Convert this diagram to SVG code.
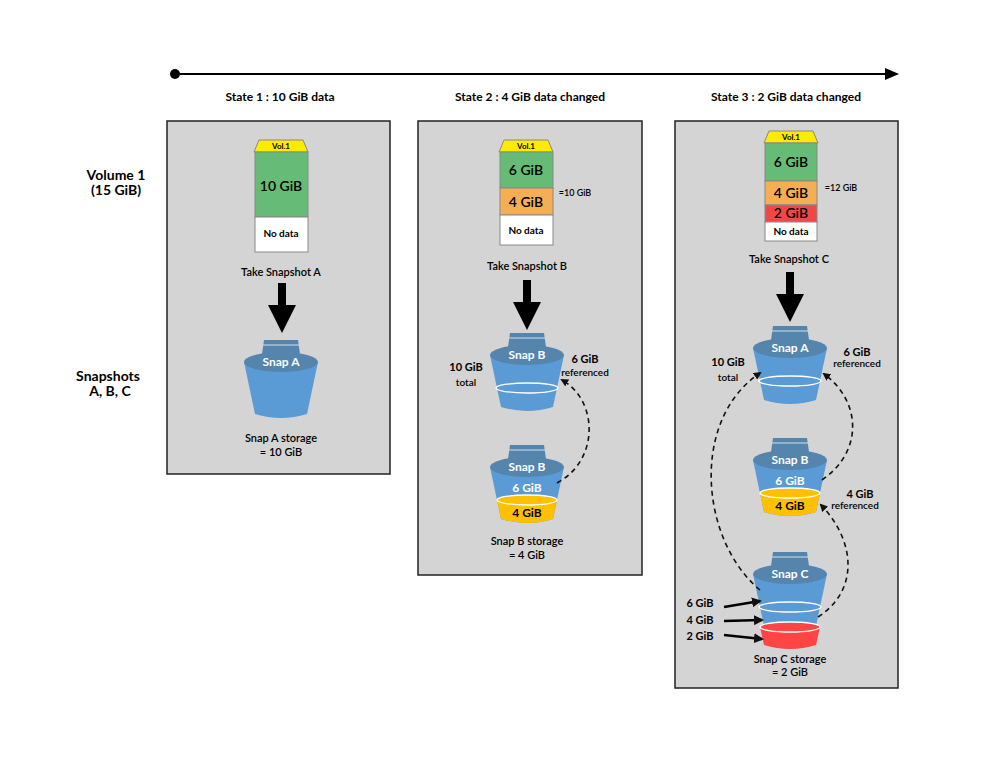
<svg xmlns="http://www.w3.org/2000/svg" width="1000" height="757" viewBox="0 0 1000 757">
<style>
text{font-family:Lato,"Open Sans","Liberation Sans",sans-serif;text-anchor:middle;fill:#000}
.b{font-weight:700}
.s{font-size:11px}
.m{font-size:12px;font-weight:700}
.vt{font-size:14px;font-weight:700}
.w{fill:#fff;font-weight:700;font-size:12px}
.panel{fill:#d4d4d4;stroke:#222;stroke-width:1.5}
.dash{fill:none;stroke:#111;stroke-width:1.6;stroke-dasharray:5 4}
</style>
<defs>
<marker id="ah" markerWidth="8" markerHeight="8" refX="6" refY="4" orient="auto" markerUnits="userSpaceOnUse"><path d="M0,0 L8,4 L0,8 Z" fill="#111"/></marker>
<marker id="ah2" markerWidth="10" markerHeight="10" refX="8" refY="5" orient="auto" markerUnits="userSpaceOnUse"><path d="M0,0 L10,5 L0,10 Z" fill="#111"/></marker>
<g id="bucket">
<path d="M-17,-22 L17,-22 L19,-8 L-19,-8 Z" fill="#5585ad"/>
<line x1="-18" y1="-17" x2="18" y2="-17" stroke="#cfe0ee" stroke-width="1"/>
<path d="M-37,0 L-26,52 Q0,60 26,52 L37,0 Z" fill="#5b9bd5"/>
<ellipse cx="0" cy="0" rx="37" ry="10" fill="#5585ad"/>
</g>
<ellipse id="ring" cx="0" cy="27" rx="31" ry="5" fill="none" stroke="#fff" stroke-width="1.3"/>
<g id="cap"><path d="M4,0 L48,0 L53,12 L-1,12 Z" fill="#ffeb00" stroke="#888" stroke-width="1"/></g>
<g id="bigarrow"><rect x="-4" y="0" width="8" height="24" fill="#000"/><path d="M-14,22 L14,22 L0,50 Z" fill="#000"/></g>
</defs>

<g id="timeline">
<circle cx="175" cy="74" r="5" fill="#000"/>
<line x1="175" y1="74" x2="888" y2="74" stroke="#000" stroke-width="2"/>
<path d="M885,68 L899,74 L885,80 Z" fill="#000"/>
</g>

<g id="labels">
<text x="280" y="101" class="m">State 1 : 10 GiB data</text>
<text x="530" y="101" class="m">State 2 : 4 GiB data changed</text>
<text x="786" y="101" class="m">State 3 : 2 GiB data changed</text>
<text x="116" y="180" class="vt">Volume 1</text>
<text x="116" y="195" class="vt">(15 GiB)</text>
<text x="108" y="381" class="vt">Snapshots</text>
<text x="110" y="396" class="vt">A, B, C</text>
</g>

<g id="state1">
<rect class="panel" x="167" y="121" width="223" height="353"/>
<use href="#cap" x="255" y="140"/>
<rect x="255" y="152" width="53" height="65" fill="#66bb77" stroke="#888"/>
<rect x="255" y="217" width="53" height="35" fill="#fff" stroke="#888"/>
<text x="281" y="191" class="vt" style="font-weight:600">10 GiB</text>
<text x="281" y="237" class="s b" style="font-size:10px">No data</text>
<text x="281" y="149" style="font-size:8px;font-weight:700">Vol.1</text>
<text x="281" y="276" class="s" style="font-weight:600">Take Snapshot A</text>
<use href="#bigarrow" x="282" y="283"/>
<use href="#bucket" x="281" y="362"/>
<text x="281" y="366" class="w">Snap A</text>
<text x="281" y="442" class="s" style="font-weight:600">Snap A storage</text>
<text x="281" y="456" class="s" style="font-weight:600">= 10 GiB</text>
</g>

<g id="state2">
<rect class="panel" x="418" y="121" width="224" height="454"/>
<use href="#cap" x="500" y="140"/>
<rect x="500" y="152" width="53" height="36" fill="#66bb77" stroke="#888"/>
<rect x="500" y="188" width="53" height="27" fill="#f6ae55" stroke="#888"/>
<rect x="500" y="215" width="53" height="30" fill="#fff" stroke="#888"/>
<text x="526" y="149" style="font-size:8px;font-weight:700">Vol.1</text>
<text x="526" y="175" class="vt" style="font-weight:600">6 GiB</text>
<text x="526" y="207" class="vt" style="font-weight:600">4 GiB</text>
<text x="526" y="234" style="font-size:10px;font-weight:700">No data</text>
<text x="575" y="196" style="font-size:9px;font-weight:600">=10 GiB</text>
<text x="527" y="270" class="s" style="font-weight:600">Take Snapshot B</text>
<use href="#bigarrow" x="527" y="280"/>
<use href="#bucket" x="527" y="355"/>
<use href="#ring" x="527" y="361"/>
<text x="527" y="359" class="w">Snap B</text>
<text x="466" y="371" class="s b">10 GiB</text>
<text x="466" y="386" style="font-size:10px;font-weight:600">total</text>
<text x="585" y="363" class="s b">6 GiB</text>
<text x="585" y="376" style="font-size:10px;font-weight:600">referenced</text>
<use href="#bucket" x="527" y="467"/>
<path d="M497,500 L501,519 Q527,527 553,519 L557,500 Z" fill="#ffc000"/>
<ellipse cx="527" cy="500" rx="30" ry="5" fill="#ffc000" stroke="#fff" stroke-width="1.3"/>
<text x="527" y="471" class="w">Snap B</text>
<text x="527" y="492" class="w">6 GiB</text>
<text x="527" y="517" class="m">4 GiB</text>
<text x="527" y="545" class="s" style="font-weight:600">Snap B storage</text>
<text x="527" y="559" class="s" style="font-weight:600">= 4 GiB</text>
</g>

<g id="state3">
<rect class="panel" x="675" y="121" width="223" height="567"/>
<use href="#cap" x="765" y="131"/>
<rect x="765" y="143" width="52" height="38" fill="#66bb77" stroke="#888"/>
<rect x="765" y="181" width="52" height="24" fill="#f6ae55" stroke="#888"/>
<rect x="765" y="205" width="52" height="17" fill="#f04848" stroke="#888"/>
<rect x="765" y="222" width="52" height="19" fill="#fff" stroke="#888"/>
<text x="791" y="140" style="font-size:8px;font-weight:700">Vol.1</text>
<text x="791" y="167" class="vt" style="font-weight:600">6 GiB</text>
<text x="791" y="198" class="vt" style="font-weight:600">4 GiB</text>
<text x="791" y="218" class="vt" style="font-weight:600">2 GiB</text>
<text x="791" y="235" style="font-size:10px;font-weight:700">No data</text>
<text x="841" y="191" style="font-size:9px;font-weight:600">=12 GiB</text>
<text x="789" y="263" class="s" style="font-weight:600">Take Snapshot C</text>
<use href="#bigarrow" x="790" y="272"/>
<use href="#bucket" x="790" y="348"/>
<use href="#ring" x="790" y="354"/>
<text x="790" y="352" class="w">Snap A</text>
<text x="728" y="366" class="s b">10 GiB</text>
<text x="728" y="381" style="font-size:10px;font-weight:600">total</text>
<text x="857" y="356" class="s b">6 GiB</text>
<text x="857" y="367" style="font-size:10px;font-weight:600">referenced</text>
<use href="#bucket" x="790" y="460"/>
<path d="M760,493 L764,512 Q790,520 816,512 L820,493 Z" fill="#ffc000"/>
<ellipse cx="790" cy="493" rx="30" ry="5" fill="#ffc000" stroke="#fff" stroke-width="1.3"/>
<text x="790" y="464" class="w">Snap B</text>
<text x="790" y="485" class="w">6 GiB</text>
<text x="790" y="510" class="m">4 GiB</text>
<text x="860" y="498" class="s b">4 GiB</text>
<text x="855" y="509" style="font-size:10px;font-weight:600">referenced</text>
<use href="#bucket" x="790" y="574"/>
<use href="#ring" x="790" y="580"/>
<path d="M760,627 L764,645 Q790,653 816,645 L820,627 Z" fill="#ff4444"/>
<ellipse cx="790" cy="627" rx="30" ry="5" fill="#ff4444" stroke="#fff" stroke-width="1.3"/>
<text x="790" y="578" class="w">Snap C</text>
<text x="700" y="607" class="s b">6 GiB</text>
<text x="700" y="624" class="s b">4 GiB</text>
<text x="700" y="640" class="s b">2 GiB</text>
<text x="790" y="663" class="s" style="font-weight:600">Snap C storage</text>
<text x="790" y="676" class="s" style="font-weight:600">= 2 GiB</text>
</g>

<g id="connectors">
<path class="dash" d="M557,483 C600,460 598,400 562,380" marker-end="url(#ah)"/>
<path class="dash" d="M760,590 C700,540 690,420 760,373" marker-end="url(#ah)"/>
<path class="dash" d="M822,480 C865,450 860,400 824,374" marker-end="url(#ah)"/>
<path class="dash" d="M818,617 C860,590 855,540 821,505" marker-end="url(#ah)"/>
<line x1="724" y1="607" x2="760" y2="601" stroke="#000" stroke-width="2.5" marker-end="url(#ah2)"/>
<line x1="724" y1="621" x2="762" y2="620" stroke="#000" stroke-width="2.5" marker-end="url(#ah2)"/>
<line x1="724" y1="635" x2="762" y2="639" stroke="#000" stroke-width="2.5" marker-end="url(#ah2)"/>
</g>
</svg>
